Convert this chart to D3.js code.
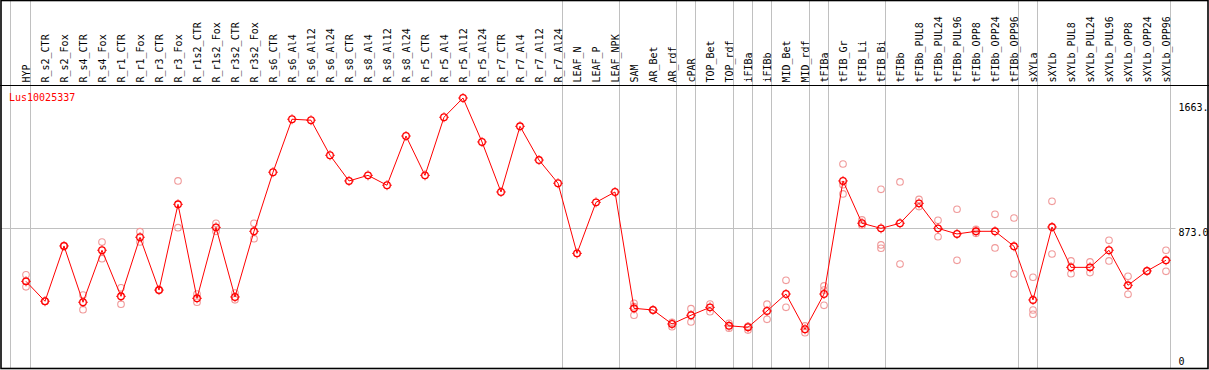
<!DOCTYPE html>
<html>
<head>
<meta charset="utf-8">
<script src="https://cdn.jsdelivr.net/npm/d3@7"></script>
<style>
  html, body { margin: 0; padding: 0; background: #fff; }
  svg { display: block; }
  text { font-family: "DejaVu Sans Mono", monospace; font-size: 10px; }
</style>
</head>
<body>
<script>
const title = "Lus10025337";
const categories = ["HYP","R_s2_CTR","R_s2_Fox","R_s4_CTR","R_s4_Fox","R_r1_CTR","R_r1_Fox","R_r3_CTR","R_r3_Fox",
  "R_r1s2_CTR","R_r1s2_Fox","R_r3s2_CTR","R_r3s2_Fox","R_s6_CTR","R_s6_Al4","R_s6_Al12","R_s6_Al24",
  "R_s8_CTR","R_s8_Al4","R_s8_Al12","R_s8_Al24","R_r5_CTR","R_r5_Al4","R_r5_Al12","R_r5_Al24",
  "R_r7_CTR","R_r7_Al4","R_r7_Al12","R_r7_Al24","LEAF_N","LEAF_P","LEAF_NPK","SAM","AR_Bet","AR_rdf",
  "cPAR","TOP_Bet","TOP_rdf","iFIBa","iFIBb","MID_Bet","MID_rdf","tFIBa","tFIB_Gr","tFIB_Li","tFIB_Bi",
  "tFIBb","tFIBb_PUL8","tFIBb_PUL24","tFIBb_PUL96","tFIBb_OPP8","tFIBb_OPP24","tFIBb_OPP96",
  "sXYLa","sXYLb","sXYLb_PUL8","sXYLb_PUL24","sXYLb_PUL96","sXYLb_OPP8","sXYLb_OPP24","sXYLb_OPP96"];
const means = [549,428,764,422,738,458,817,496,1017,446,877,454,853,1212,1534,1528,1315,
  1159,1193,1133,1432,1193,1546,1663,1396,1092,1491,1286,1145,719,1029,1092,385,375,290,
  343,391,279,270,369,472,258,472,1159,902,871,902,1023,871,837,853,853,762,
  436,879,634,634,738,525,612,677];
const replicates = [[589,551,516],[428,428],[764,764],[466,377],[788,687],[510,410],[851,788],[496,496],[1159,875],
  [472,422],[902,853],[478,437],[902,808],[],[],[],[],
  [],[],[],[],[],[],[],[],
  [],[],[],[],[],[],[],[416,395,343],[375,375],[300,273],
  [383,302],[411,365],[294,264],[276,253],[410,318],[555,391],[278,237],[521,496,403],[1262,1136,1080],[922,890],[1108,770,750],
  [1153,654],[1047,1003],[920,820],[987,677],[865,841],[956,752],[934,594],
  [574,375,349],[1035,715],[673,595],[667,602],[798,673],[580,470],[612,612],[738,610]];
const groupEnds = ["HYP","R_r7_Al24","LEAF_NPK","AR_rdf","cPAR","TOP_rdf","iFIBa","iFIBb","MID_rdf","tFIBa","tFIB_Bi","tFIBb_OPP96","sXYLa","sXYLb_OPP96"];
const axisTicks = [1663, 873, 0];
const axisLabels = ["1663.", "873.0", "0"];

const W = 1209, H = 370;
const svg = d3.select("body").append("svg").attr("width", W).attr("height", H);

const x = d3.scalePoint().domain(categories).range([26, 1166]);
const y = d3.scaleLinear().domain([0, 1663]).range([371.7, 98]);
const step = x.step();

// horizontal mid grid line
svg.append("line")
  .attr("x1", 1).attr("x2", 1175.5)
  .attr("y1", Math.round(y(873)) + 0.5).attr("y2", Math.round(y(873)) + 0.5)
  .attr("stroke", "#c0c0c0").attr("stroke-width", 1);

// group separators
const sepX = [x(categories[0]) - 15.5].concat(groupEnds.map(c => x(c) + 4.5));
svg.selectAll("line.sep").data(sepX).enter().append("line")
  .attr("class", "sep")
  .attr("x1", d => Math.floor(d) + 0.5).attr("x2", d => Math.floor(d) + 0.5)
  .attr("y1", 0).attr("y2", 368)
  .attr("stroke", "#c0c0c0").attr("stroke-width", 1);

// header separator
svg.append("line").attr("x1", 0).attr("x2", W).attr("y1", 85.5).attr("y2", 85.5)
  .attr("stroke", "#000").attr("stroke-width", 1);

// column labels
svg.selectAll("text.col").data(categories).enter().append("text")
  .attr("class", "col")
  .attr("transform", d => `translate(${x(d) + 3.8},82.5) rotate(-90)`)
  .attr("fill", "#000")
  .text(d => d);

// title
svg.append("text").attr("x", 9).attr("y", 100.8).attr("fill", "#ff0000").text(title);

// replicate points
const repPts = [];
categories.forEach((c, i) => replicates[i].forEach(v => repPts.push({c, v})));
const repG = svg.append("g");
repPts.forEach(p => {
  const cx = x(p.c), cy = y(p.v);
  repG.append("circle").attr("cx", cx).attr("cy", cy).attr("r", 3.3)
    .attr("fill", "none").attr("stroke", "#f09a9a").attr("stroke-width", 1.1);
});

// mean line
const line = d3.line().x((d, i) => x(categories[i])).y(d => y(d));
svg.append("path").datum(means).attr("d", line)
  .attr("fill", "none").attr("stroke", "#ff0000").attr("stroke-width", 1);

// mean markers
const mG = svg.append("g");
means.forEach((v, i) => {
  const cx = x(categories[i]), cy = y(v);
  mG.append("circle").attr("cx", cx).attr("cy", cy).attr("r", 3.3)
    .attr("fill", "none").attr("stroke", "#ff0000").attr("stroke-width", 1.3);
  [[0,-1],[0,1],[-1,0],[1,0]].forEach(([dx, dy]) => {
    mG.append("line")
      .attr("x1", cx + dx * 3.5).attr("y1", cy + dy * 3.5)
      .attr("x2", cx + dx * 5).attr("y2", cy + dy * 5)
      .attr("stroke", "#ff0000").attr("stroke-width", 0.8);
  });
});

// right axis labels
const labelDy = [12.6, 7.6, -6.7];
svg.selectAll("text.ax").data(axisTicks).enter().append("text")
  .attr("class", "ax")
  .attr("x", 1178.5)
  .attr("y", (d, i) => y(d) + labelDy[i])
  .attr("fill", "#000")
  .text((d, i) => axisLabels[i]);

// border
svg.append("rect").attr("x", 1).attr("y", 0.5).attr("width", 1207).attr("height", 368)
  .attr("fill", "none").attr("stroke", "#000").attr("stroke-width", 1.6);
</script>
</body>
</html>
